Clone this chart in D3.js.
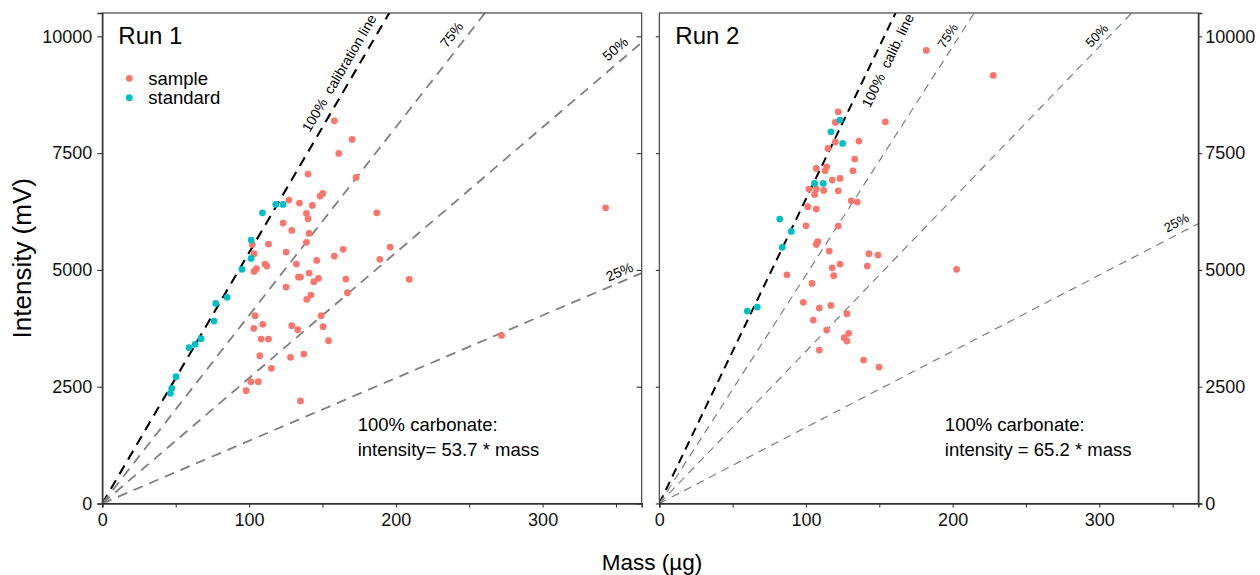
<!DOCTYPE html>
<html>
<head>
<meta charset="utf-8">
<script src="https://cdn.jsdelivr.net/npm/d3@7"></script>
<style>
  html, body { margin: 0; padding: 0; background: #fff; }
  svg { display: block; font-family: "Liberation Sans", Arial, Helvetica, sans-serif; }
</style>
</head>
<body>
<svg id="chart" width="1260" height="575"></svg>
<script>
// ---- data ----------------------------------------------------------------
const massTicks = [0, 50, 100, 150, 200, 250, 300, 350];
const massTickLabels = [0, 100, 200, 300];
const intensityTicks = [0, 2500, 5000, 7500, 10000];

const runNames = ["Run 1", "Run 2"];
const calibSlopes = [53.7, 65.2];
const carbonateFractions = [1, 0.75, 0.5, 0.25];
const run1LineLabels = ["100%  calibration line", "75%", "50%", "25%"];
const run2LineLabels = ["100%  calib. line", "75%", "50%", "25%"];
const calibNotes = [
  ["100% carbonate:", "intensity= 53.7 * mass"],
  ["100% carbonate:", "intensity = 65.2 * mass"]
];

// Run 1
const run1StandardMass = [46.4, 47.3, 50.2, 59.1, 63.2, 67.3, 76.1, 77.3, 85.0, 95.2, 101.4, 101.4, 109.1, 118.2, 123.2];
const run1StandardIntensity = [2358, 2465, 2714, 3334, 3407, 3527, 3906, 4284, 4413, 5012, 5247, 5639, 6223, 6403, 6403];
const run1SampleMass = [158.1, 170.2, 161.1, 140.2, 172.9, 150.2, 148.4, 127.1, 134.3, 143.1,
  187.0, 139.1, 140.2, 123.2, 129.1, 140.9, 102.2, 113.2, 139.1, 196.1,
  164.1, 103.4, 125.2, 158.1, 189.1, 146.1, 110.9, 112.1, 132.2, 105.0,
  103.4, 140.9, 133.6, 135.0, 147.2, 144.1, 165.9, 209.1, 125.2, 142.1,
  167.0, 139.3, 104.1, 149.1, 109.3, 129.1, 103.2, 133.2, 150.4, 108.2,
  113.2, 154.1, 107.3, 128.2, 137.3, 115.2, 101.2, 106.3, 98.0, 135.0,
  342.9, 272.0];
const run1SampleIntensity = [8192, 7794, 7494, 7051, 6981, 6638, 6581, 6495, 6431, 6381,
  6223, 6210, 6095, 6003, 5846, 5782, 5547, 5553, 5590, 5489,
  5440, 5346, 5382, 5297, 5226, 5204, 5125, 5083, 5125, 5025,
  4969, 4933, 4847, 4847, 4819, 4747, 4804, 4798, 4633, 4462,
  4511, 4370, 4019, 4019, 3835, 3805, 3749, 3719, 3784, 3520,
  3520, 3484, 3163, 3129, 3199, 2893, 2607, 2607, 2414, 2194,
  6330, 3599];

// Run 2
const run2StandardMass = [60.0, 66.8, 82.1, 90.0, 83.8, 105.9, 111.8, 117.0, 123.2, 125.0];
const run2StandardIntensity = [4120, 4205, 6088, 5825, 5483, 6852, 6852, 7957, 8207, 7708];
const run2SampleMass = [122.0, 120.0, 120.0, 115.0, 136.1, 133.2, 132.0, 107.0, 114.1, 113.0,
  117.9, 123.2, 122.0, 112.1, 102.0, 105.9, 107.0, 101.2, 107.0, 130.9,
  135.0, 100.0, 122.0, 108.0, 107.0, 115.9, 142.9, 149.1, 141.8, 123.2,
  117.9, 118.9, 87.0, 104.1, 98.2, 109.1, 117.0, 105.0, 127.9, 114.1,
  129.1, 126.1, 127.9, 109.1, 139.3, 149.8, 182.0, 227.7, 154.1, 202.7];
const run2SampleIntensity = [8385, 8158, 7736, 7601, 7758, 7372, 7122, 7173, 7208, 7122,
  6923, 6959, 6694, 6702, 6730, 6617, 6730, 6352, 6302, 6480,
  6452, 5945, 5939, 5603, 5547, 5404, 5346, 5318, 5083, 5125,
  5046, 4875, 4896, 4712, 4306, 4184, 4241, 3927, 4062, 3713,
  3642, 3548, 3478, 3285, 3071, 2921, 9698, 9163, 8171, 5012];

const seriesNames = ["sample", "standard"];
const seriesColors = ["#F8766D", "#00BFC4"];

// ---- layout ----------------------------------------------------------------
const svg = d3.select("#chart");
const panelTop = 13, panelBottom = 503.5;
const massMax = 367.5, intensityMax = 10500;
const tickFont = 18;

const panels = [
  {
    left: 102.3, right: 641.7,
    sample: { mass: run1SampleMass, intensity: run1SampleIntensity },
    standard: { mass: run1StandardMass, intensity: run1StandardIntensity },
    lineLabels: run1LineLabels,
    labelMass: [169, 245, 355, 355],
    labelOffset: [13, 13, 12.5, 10],
    labelSize: [14, 14, 14, 14],
    refWidth: 1.8, calibWidth: 2.1,
    refDash: "10,7", calibDash: "10,7",
    noteMass: 174, noteIntensity: 1550,
    yAxisSide: "left", legend: true
  },
  {
    left: 659.3, right: 1198.3,
    sample: { mass: run2SampleMass, intensity: run2SampleIntensity },
    standard: { mass: run2StandardMass, intensity: run2StandardIntensity },
    lineLabels: run2LineLabels,
    labelMass: [147.4, 202.4, 303, 356],
    labelOffset: [-13.5, 10, 9.5, 11],
    labelSize: [14, 13, 13, 13],
    refWidth: 1.2, calibWidth: 2,
    refDash: "8,6", calibDash: "9,6",
    noteMass: 194.7, noteIntensity: 1550,
    yAxisSide: "right", legend: false
  }
];

panels.forEach((p, i) => {
  const x = d3.scaleLinear().domain([0, massMax]).range([p.left, p.right]);
  const y = d3.scaleLinear().domain([0, intensityMax]).range([panelBottom, panelTop]);
  const slope = calibSlopes[i];
  const g = svg.append("g");

  const clipId = "clip" + i;
  svg.append("defs").append("clipPath").attr("id", clipId)
    .append("rect")
    .attr("x", p.left).attr("y", panelTop)
    .attr("width", p.right - p.left).attr("height", panelBottom - panelTop);

  // reference lines through the origin
  const lines = g.append("g").attr("clip-path", `url(#${clipId})`);
  carbonateFractions.forEach((f, k) => {
    lines.append("line")
      .attr("x1", x(0)).attr("y1", y(0))
      .attr("x2", x(massMax)).attr("y2", y(massMax * slope * f))
      .attr("stroke", k === 0 ? "#000" : "#7f7f7f")
      .attr("stroke-width", k === 0 ? p.calibWidth : p.refWidth)
      .attr("stroke-dasharray", k === 0 ? p.calibDash : p.refDash);
  });

  // points: samples then standards
  const pts = g.append("g").attr("clip-path", `url(#${clipId})`);
  [p.sample, p.standard].forEach((s, k) => {
    pts.selectAll(null)
      .data(d3.range(s.mass.length))
      .join("circle")
      .attr("cx", j => x(s.mass[j]))
      .attr("cy", j => y(s.intensity[j]))
      .attr("r", 3.4)
      .attr("fill", seriesColors[k]);
  });

  // line labels, rotated along each line
  carbonateFractions.forEach((f, k) => {
    const m = p.labelMass[k];
    const ang = Math.atan2(y(slope * f * 100) - y(0), x(100) - x(0)) * 180 / Math.PI;
    g.append("text")
      .attr("transform", `translate(${x(m)},${y(m * slope * f)}) rotate(${ang}) translate(0,${-p.labelOffset[k]})`)
      .attr("text-anchor", "middle")
      .attr("dominant-baseline", "central")
      .style("white-space", "pre")
      .attr("font-size", p.labelSize[k])
      .attr("fill", "#000")
      .text(p.lineLabels[k]);
  });

  // panel frame
  g.append("rect")
    .attr("x", p.left).attr("y", panelTop)
    .attr("width", p.right - p.left).attr("height", panelBottom - panelTop)
    .attr("fill", "none").attr("stroke", "#333").attr("stroke-width", 1.1);

  // x axis
  const xAxis = d3.axisBottom(x).tickValues(massTicks).tickSize(4).tickPadding(6)
    .tickFormat(d => massTickLabels.includes(d) ? d : "");
  const xg = g.append("g").attr("transform", `translate(0,${panelBottom})`).call(xAxis);
  xg.attr("font-family", null);
  xg.select(".domain").attr("stroke", "#333").attr("stroke-width", 1.6);
  xg.selectAll(".tick line").attr("stroke", "#333").attr("stroke-width", 1.1);
  xg.selectAll(".tick text").attr("font-size", tickFont).attr("fill", "#111");

  // y axis: labelled side plus unlabelled ticks on the opposite edge
  const fmt = d3.format("d");
  if (p.yAxisSide === "left") {
    const ya = d3.axisLeft(y).tickValues(intensityTicks).tickSize(5).tickPadding(5).tickFormat(fmt);
    const yg = g.append("g").attr("transform", `translate(${p.left},0)`).call(ya);
    yg.attr("font-family", null);
    yg.select(".domain").attr("stroke", "#333").attr("stroke-width", 1.4);
    yg.selectAll(".tick line").attr("stroke", "#333").attr("stroke-width", 1.1);
    yg.selectAll(".tick text").attr("font-size", tickFont).attr("fill", "#111");
    const yr = d3.axisLeft(y).tickValues(intensityTicks).tickSize(5).tickFormat("");
    const yrg = g.append("g").attr("transform", `translate(${p.right},0)`).call(yr);
    yrg.select(".domain").remove();
    yrg.selectAll(".tick line").attr("stroke", "#333").attr("stroke-width", 1.1);
  } else {
    const ya = d3.axisRight(y).tickValues(intensityTicks).tickSize(4).tickPadding(3).tickFormat(fmt);
    const yg = g.append("g").attr("transform", `translate(${p.right},0)`).call(ya);
    yg.attr("font-family", null);
    yg.select(".domain").attr("stroke", "#333").attr("stroke-width", 1.4);
    yg.selectAll(".tick line").attr("stroke", "#333").attr("stroke-width", 1.1);
    yg.selectAll(".tick text").attr("font-size", tickFont).attr("fill", "#111");
    const yl = d3.axisLeft(y).tickValues(intensityTicks).tickSize(3.5).tickFormat("");
    const ylg = g.append("g").attr("transform", `translate(${p.left},0)`).call(yl);
    ylg.select(".domain").remove();
    ylg.selectAll(".tick line").attr("stroke", "#333").attr("stroke-width", 1.1);
  }

  // panel title
  g.append("text")
    .attr("x", p.left + 16).attr("y", 44)
    .attr("font-size", 24).attr("fill", "#000")
    .text(runNames[i]);

  // calibration note
  const note = g.append("text")
    .attr("x", x(p.noteMass)).attr("y", y(p.noteIntensity))
    .attr("font-size", 18.5).attr("fill", "#000");
  calibNotes[i].forEach((t, k) => {
    note.append("tspan").attr("x", x(p.noteMass)).attr("dy", k === 0 ? 0 : 25).text(t);
  });

  // legend
  if (p.legend) {
    const lg = g.append("g");
    seriesNames.forEach((n, k) => {
      const cy = 78.3 + k * 19.4;
      lg.append("circle").attr("cx", p.left + 27).attr("cy", cy).attr("r", 3.4).attr("fill", seriesColors[k]);
      lg.append("text").attr("x", p.left + 46).attr("y", cy)
        .attr("dominant-baseline", "central")
        .attr("font-size", 18.5).attr("fill", "#000").text(n);
    });
  }
});

// shared axis titles
svg.append("text")
  .attr("transform", `translate(31,${(panelTop + panelBottom) / 2}) rotate(-90)`)
  .attr("text-anchor", "middle")
  .attr("font-size", 26).attr("fill", "#000")
  .text("Intensity (mV)");

svg.append("text")
  .attr("x", 652).attr("y", 570)
  .attr("text-anchor", "middle")
  .attr("font-size", 22.5).attr("fill", "#000")
  .text("Mass (µg)");
</script>
</body>
</html>
